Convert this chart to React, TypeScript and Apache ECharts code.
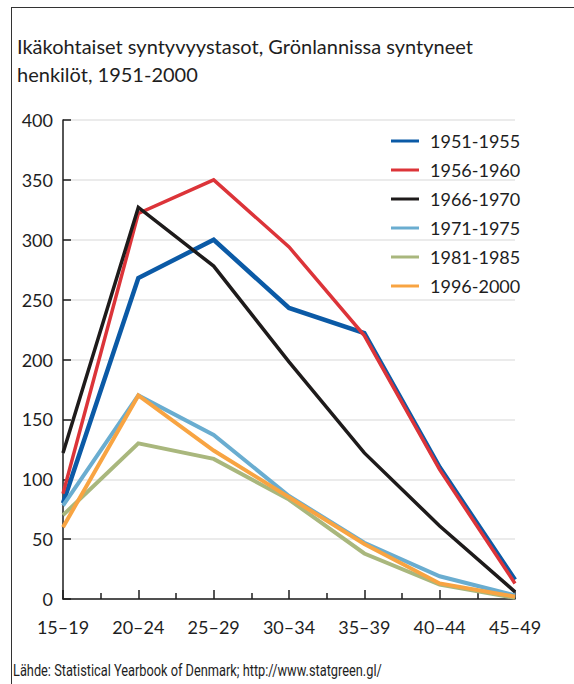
import React, { useEffect, useRef } from "react";
import * as echarts from "echarts";

const categories = ["15–19", "20–24", "25–29", "30–34", "35–39", "40–44", "45–49"];
const seriesNames = ["1951-1955", "1956-1960", "1966-1970", "1971-1975", "1981-1985", "1996-2000"];
const s1951 = [80, 268, 300, 243, 222, 110, 16];
const s1956 = [88, 322, 350, 294, 220, 108, 13];
const s1966 = [122, 327, 278, 198, 122, 61, 6];
const s1971 = [78, 170, 137, 86, 47, 19, 3];
const s1981 = [70, 130, 117, 83, 38, 12, 1];
const s1996 = [60, 170, 124, 85, 46, 13, 2];
const yTicks = [0, 50, 100, 150, 200, 250, 300, 350, 400];

const colors = ["#0b5aa6", "#dc3439", "#1e1b1b", "#6aadd0", "#a9b77d", "#f8a442"];
const widths = [4.5, 3.5, 3.5, 4, 4, 4];

const FONT = "Lato";

export default function App() {
  const ref = useRef<HTMLDivElement>(null);
  useEffect(() => {
    document.body.style.margin = "0";
    if (!ref.current) return;
    const chart = echarts.init(ref.current, undefined, { renderer: "svg" });
    const all = [s1951, s1956, s1966, s1971, s1981, s1996];
    chart.setOption({
      animation: false,
      backgroundColor: "#ffffff",
      textStyle: { fontFamily: FONT },
      title: {
        text: "Ikäkohtaiset syntyvyystasot, Grönlannissa syntyneet\nhenkilöt, 1951-2000",
        left: 12,
        top: 27,
        textStyle: { fontFamily: FONT, fontSize: 20, fontWeight: "normal", color: "#1e1e1e", lineHeight: 28 },
      },
      legend: {
        orient: "vertical",
        left: 386,
        top: 126,
        itemWidth: 28,
        itemHeight: 3,
        itemGap: 9,
        icon: "rect",
        textStyle: { fontFamily: FONT, fontSize: 18, color: "#1e1e1e", lineHeight: 20, padding: [0, 0, 0, 6] },
        data: seriesNames,
      },
      grid: { left: 63, top: 120, right: 59, bottom: 85 },
      xAxis: {
        type: "value",
        min: 0,
        max: categories.length - 1,
        interval: 1,
        axisLine: { show: true, lineStyle: { color: "#1e1e1e", width: 1.5 } },
        axisTick: { show: true, inside: true, length: 9, lineStyle: { color: "#1e1e1e", width: 1.5 } },
        minorTick: { show: true, splitNumber: 2, length: 6, lineStyle: { color: "#1e1e1e", width: 1.5 } },
        splitLine: { show: false },
        axisLabel: {
          margin: 19,
          fontSize: 18,
          color: "#1e1e1e",
          fontFamily: FONT,
          formatter: (v: number) => categories[Math.round(v)] ?? "",
        },
      },
      yAxis: {
        type: "value",
        min: yTicks[0],
        max: yTicks[yTicks.length - 1],
        interval: 50,
        axisLine: { show: true, lineStyle: { color: "#1e1e1e", width: 1.5 } },
        axisTick: { show: true, inside: true, length: 8, lineStyle: { color: "#1e1e1e", width: 1.5 } },
        splitLine: { show: true, lineStyle: { color: "#e4e4e4", width: 1.5 } },
        axisLabel: { margin: 10, fontSize: 18, color: "#1e1e1e", fontFamily: FONT },
      },
      series: seriesNames.map((name, i) => ({
        name,
        type: "line",
        data: all[i].map((v, j) => [j, v]),
        showSymbol: false,
        symbol: "none",
        color: colors[i],
        lineStyle: { color: colors[i], width: widths[i], join: "miter" },
      })),
      graphic: [
        { type: "line", shape: { x1: 11.5, y1: 7, x2: 11.5, y2: 684 }, style: { stroke: "#333", lineWidth: 1 } },
        { type: "line", shape: { x1: 11, y1: 7.5, x2: 574, y2: 7.5 }, style: { stroke: "#333", lineWidth: 1 } },
        {
          type: "text",
          x: 13,
          y: 663,
          scaleX: 0.8,
          style: {
            text: "Lähde: Statistical Yearbook of Denmark; http://www.statgreen.gl/",
            fontFamily: "Roboto",
            fontSize: 16,
            fill: "#1e1e1e",
          },
        },
      ],
    });
    return () => chart.dispose();
  }, []);
  return <div ref={ref} style={{ width: 574, height: 684 }} />;
}
